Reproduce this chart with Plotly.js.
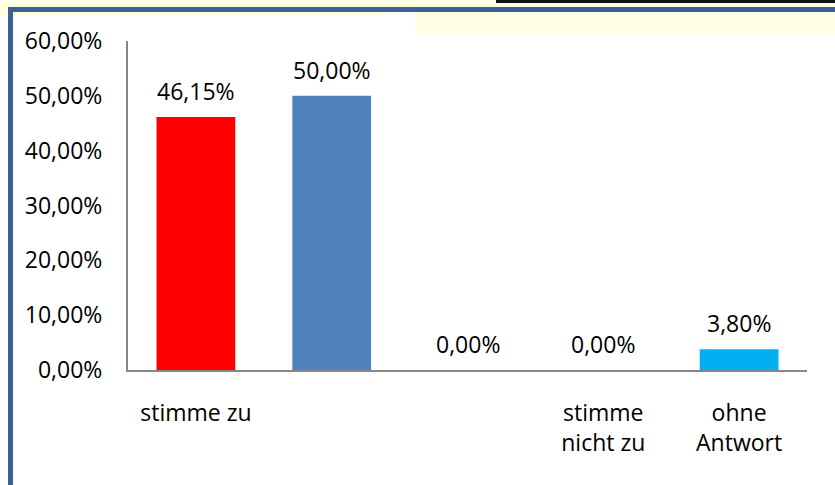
<!DOCTYPE html>
<html>
<head>
<meta charset="utf-8">
<script src="https://cdn.plot.ly/plotly-3.0.1.min.js"></script>
<style>
html,body{margin:0;padding:0;background:#fff;}
#wrap{position:relative;width:835px;height:485px;overflow:hidden;background:#fff;}
.deco{position:absolute;}
#chart{position:absolute;left:0;top:0;width:835px;height:485px;}
</style>
</head>
<body>
<div id="wrap">
  <div class="deco" style="left:0;top:0;width:390px;height:15px;background:#FFFFE3;"></div>
  <div class="deco" style="left:390px;top:0;width:445px;height:8px;background:#FFFFE3;"></div>
  <div class="deco" style="left:415px;top:12px;width:420px;height:21px;background:#FFFFE3;"></div>
  <div class="deco" style="left:496px;top:0;width:339px;height:3px;background:#111;"></div>
  <div class="deco" style="left:8px;top:7px;width:827px;height:5px;background:#3C6294;"></div>
  <div class="deco" style="left:8px;top:7px;width:5px;height:478px;background:#3C6294;"></div>
  <div id="chart"></div>
</div>
<script>
var categories = ["stimme zu", "", "", "stimme nicht zu", "ohne Antwort"];
var tickLabels = ["stimme zu", "", "", "stimme<br>nicht zu", "ohne<br>Antwort"];
var values = [46.15, 50.00, 0.00, 0.00, 3.80];
var valueLabels = ["46,15%", "50,00%", "0,00%", "0,00%", "3,80%"];
var barColors = ["#FF0000", "#4F81BD", "#4F81BD", "#4F81BD", "#00B0F0"];
var yTickVals = [0, 10, 20, 30, 40, 50, 60];
var yTickText = ["0,00%", "10,00%", "20,00%", "30,00%", "40,00%", "50,00%", "60,00%"];

var xIdx = categories.map(function(c, i){ return i; });

var FONT = "'Open Sans', sans-serif";

var trace = {
  type: "bar",
  x: xIdx,
  y: values,
  marker: {color: barColors},
  hoverinfo: "none"
};

var annotations = values.map(function(v, i){
  return {
    x: xIdx[i], y: v, xref: "x", yref: "y",
    text: valueLabels[i], showarrow: false,
    yanchor: "middle", yshift: 26,
    font: {family: FONT, size: 23, color: "#000"}
  };
});

var layout = {
  width: 835, height: 485,
  margin: {l: 128, r: 28, t: 41, b: 115},
  paper_bgcolor: "rgba(0,0,0,0)",
  plot_bgcolor: "rgba(0,0,0,0)",
  bargap: 0.42,
  showlegend: false,
  font: {family: FONT, size: 23, color: "#000"},
  xaxis: {
    range: [-0.5, 4.5],
    tickvals: xIdx, ticktext: tickLabels,
    showline: true, linecolor: "#868686", linewidth: 2,
    showgrid: false, zeroline: false, ticks: "",
    ticklabelstandoff: 21, fixedrange: true
  },
  yaxis: {
    range: [0, 60],
    tickvals: yTickVals, ticktext: yTickText,
    showline: true, linecolor: "#868686", linewidth: 2,
    showgrid: false, zeroline: false, ticks: "",
    ticklabelstandoff: 19, fixedrange: true
  },
  annotations: annotations
};

Plotly.newPlot("chart", [trace], layout, {displayModeBar: false, staticPlot: true});
</script>
</body>
</html>
